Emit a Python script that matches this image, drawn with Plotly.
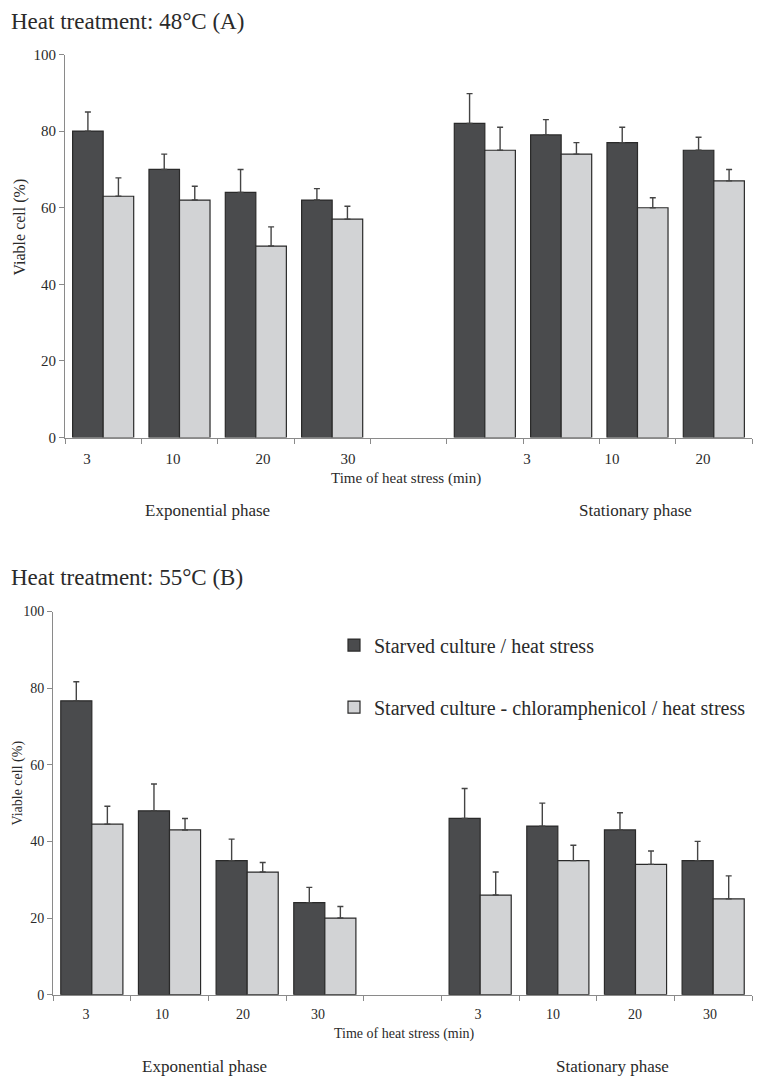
import plotly.graph_objects as go

# ---------------- data ----------------
series_names = ["Starved culture / heat stress",
                "Starved culture - chloramphenicol / heat stress"]

# slot index of each bar group (4 exponential, 1 empty slot, 4 stationary)
slots = [0, 1, 2, 3, 5, 6, 7, 8]

# Panel A : 48 °C  (exponential 3,10,20,30 | stationary 3,10,20,30)
a_dark = [80, 70, 64, 62, 82, 79, 77, 75]
a_dark_err = [5, 4, 6, 3, 7.8, 4, 4, 3.4]
a_light = [63, 62, 50, 57, 75, 74, 60, 67]
a_light_err = [4.8, 3.6, 5, 3.4, 6, 3, 2.6, 3]

# Panel B : 55 °C
b_dark = [76.7, 48, 35, 24, 46, 44, 43, 35]
b_dark_err = [5, 7, 5.6, 4, 7.8, 6, 4.5, 5]
b_light = [44.5, 43, 32, 20, 26, 35, 34, 25]
b_light_err = [4.7, 3, 2.5, 3, 6, 4, 3.5, 6]

a_ticktext = ["3", "10", "20", "30", "3", "10", "20"]
b_ticktext = ["3", "10", "20", "30", "3", "10", "20", "30"]

y_ticks = [0, 20, 40, 60, 80, 100]

# ---------------- layout helpers ----------------
OFF_X = 8
OFF_Y = 16.5
SY = 0.985
W, H = 747, 1077
DARK = "#4a4b4d"
LIGHT = "#d2d3d5"
EDGE = "#2a2a2a"
FONT = "Liberation Serif"
AXC = "#8a8a8a"
TXT = "#2a2a2a"

def px_x(p):
    return (p - OFF_X) / W

def px_y(p):
    return 1 - ((p - OFF_Y) / SY) / H

def data_pos(px, left, right):
    # convert a measured label pixel to the slot coordinate
    return -0.5 + (px - left) / (right - left) * 9

# panel pixel boxes (window coordinates)
A_L, A_R, A_T, A_B = 65, 752, 55, 438
B_L, B_R, B_T, B_B = 53, 752, 612, 995

a_label_px = [87, 173, 263, 348, 527, 612, 703]
b_label_px = [86, 162, 243, 318, 478, 553, 635, 710]
a_tickvals = [data_pos(p, A_L, A_R) for p in a_label_px]
b_tickvals = [data_pos(p, B_L, B_R) for p in b_label_px]
bounds = [i - 0.5 for i in range(10)]

fig = go.Figure()

def add_bars(vals, errs, color, name, xa, ya, showlegend, group):
    fig.add_trace(go.Bar(
        x=slots, y=vals, name=name, xaxis=xa, yaxis=ya,
        marker=dict(color=color, line=dict(color=EDGE, width=1.2)),
        error_y=dict(type="data", symmetric=False, array=errs,
                     arrayminus=[0] * len(errs), color="#444",
                     thickness=1.4, width=3),
        showlegend=showlegend, legendgroup=group, offsetgroup=group,
    ))

add_bars(a_dark, a_dark_err, DARK, series_names[0], "x", "y", False, "g1")
add_bars(a_light, a_light_err, LIGHT, series_names[1], "x", "y", False, "g2")
add_bars(b_dark, b_dark_err, DARK, series_names[0], "x2", "y2", True, "g1")
add_bars(b_light, b_light_err, LIGHT, series_names[1], "x2", "y2", True, "g2")

def x_axis(dom, anchor, tickvals, ticktext, size):
    return dict(range=[-0.5, 8.5], domain=dom, anchor=anchor,
                showgrid=False, zeroline=False,
                showline=True, linecolor=AXC, linewidth=1,
                tickvals=tickvals, ticktext=ticktext,
                ticks="outside", ticklen=7, tickcolor="rgba(0,0,0,0)",
                tickfont=dict(family=FONT, size=size, color=TXT),
                minor=dict(tickvals=bounds, ticks="outside", ticklen=5,
                           tickcolor=AXC, tickwidth=1, showgrid=False),
                fixedrange=True)

def y_axis(dom, anchor, size):
    return dict(range=[0, 100], domain=dom, anchor=anchor,
                showgrid=False, zeroline=False,
                showline=True, linecolor=AXC, linewidth=1,
                tickvals=y_ticks, ticks="outside", ticklen=5, tickcolor=AXC,
                tickfont=dict(family=FONT, size=size, color=TXT),
                fixedrange=True)

fig.update_layout(
    width=W, height=H,
    margin=dict(l=0, r=0, t=0, b=0),
    paper_bgcolor="white", plot_bgcolor="white",
    barmode="group", bargap=0.2, bargroupgap=0,
    font=dict(family=FONT, color=TXT),
    xaxis=x_axis([px_x(A_L), px_x(A_R)], "y", a_tickvals, a_ticktext, 15),
    yaxis=y_axis([px_y(A_B), px_y(A_T)], "x", 15),
    xaxis2=x_axis([px_x(B_L), px_x(B_R)], "y2", b_tickvals, b_ticktext, 14),
    yaxis2=y_axis([px_y(B_B), px_y(B_T)], "x2", 14),
    legend=dict(x=px_x(334), y=px_y(626), xanchor="left", yanchor="top",
                font=dict(family=FONT, size=20, color=TXT),
                bgcolor="rgba(0,0,0,0)", tracegroupgap=33,
                traceorder="grouped"),
)

def ann(text, x, y, size, angle=0, xanchor="center"):
    fig.add_annotation(text=text, x=px_x(x), y=px_y(y), xref="paper",
                       yref="paper", showarrow=False, textangle=angle,
                       xanchor=xanchor, yanchor="middle",
                       font=dict(family=FONT, size=size, color=TXT))

ann("Heat treatment: 48°C (A)", 9, 22, 23, xanchor="left")
ann("Heat treatment: 55°C (B)", 9, 578, 23, xanchor="left")
ann("Viable cell (%)", 20, 228, 16, angle=-90)
ann("Viable cell (%)", 18, 784, 14, angle=-90)
ann("Time of heat stress (min)", 406, 479, 15)
ann("Time of heat stress (min)", 405, 1034, 14)
ann("Exponential phase", 207, 511, 17)
ann("Stationary phase", 635, 511, 17)
ann("Exponential phase", 204, 1067, 17)
ann("Stationary phase", 612, 1067, 17)

fig.write_html("out.html")
